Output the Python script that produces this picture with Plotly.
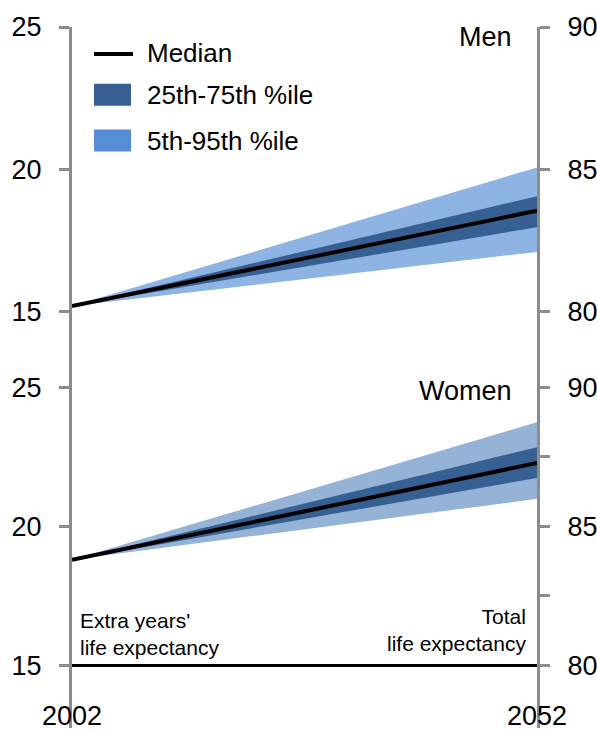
import plotly.graph_objects as go

# ---------------- data ----------------
years = [2002, 2052]

men_median = [15.2, 18.55]
men_p25 = [15.2, 17.97]
men_p75 = [15.2, 19.06]
men_p5 = [15.2, 17.10]
men_p95 = [15.2, 20.07]

women_median = [18.8, 22.28]
women_p25 = [18.8, 21.74]
women_p75 = [18.8, 22.85]
women_p5 = [18.8, 20.99]
women_p95 = [18.8, 23.75]

left_ticks = [15, 20, 25]
right_ticks_top = [80, 85, 90]
right_ticks_bottom = [80, 82.5, 85, 87.5, 90]
right_labels_bottom = ["80", "", "85", "", "90"]
offset = 65  # total life expectancy = 65 + extra years
x_ticks = [2002, 2052]

# ---------------- styling ----------------
W, H = 597, 731
ML, MR, MT, MB = 72, 60, 27, 0
PW, PH = W - ML - MR, H - MT - MB
FONT = "Liberation Sans, Arial, sans-serif"
GRAY = "#8C8C8C"
DARK = "#366092"
LIGHT_M = "#8DB4E2"
LIGHT_W = "#95B3D7"
LEG_LIGHT = "#558ED5"


def px_x(p):
    return (p - ML) / PW


def px_y(p):
    return (H - MB - p) / PH


split = px_y(389)
top_range = [15 - 76 / 28.6, 25]
bot_range = [15 - 63 / 27.9, 25]

fig = go.Figure()


def add_panel(xa, ya, med, p25, p75, p5, p95, light):
    fig.add_trace(go.Scatter(x=years, y=p5, mode="lines", line=dict(width=0),
                             xaxis=xa, yaxis=ya, showlegend=False, hoverinfo="skip"))
    fig.add_trace(go.Scatter(x=years, y=p95, mode="lines", line=dict(width=0),
                             fill="tonexty", fillcolor=light,
                             xaxis=xa, yaxis=ya, showlegend=False, hoverinfo="skip"))
    fig.add_trace(go.Scatter(x=years, y=p25, mode="lines", line=dict(width=0),
                             xaxis=xa, yaxis=ya, showlegend=False, hoverinfo="skip"))
    fig.add_trace(go.Scatter(x=years, y=p75, mode="lines", line=dict(width=0),
                             fill="tonexty", fillcolor=DARK,
                             xaxis=xa, yaxis=ya, showlegend=False, hoverinfo="skip"))
    fig.add_trace(go.Scatter(x=years, y=med, mode="lines", line=dict(width=4, color="black"),
                             xaxis=xa, yaxis=ya, showlegend=False))


add_panel("x", "y", men_median, men_p25, men_p75, men_p5, men_p95, LIGHT_M)
add_panel("x2", "y3", women_median, women_p25, women_p75, women_p5, women_p95, LIGHT_W)

tickfont = dict(family=FONT, size=27, color="black")
yax_common = dict(showline=True, linecolor=GRAY, linewidth=3, ticks="outside",
                  ticklen=10, tickwidth=3, tickcolor=GRAY, showgrid=False,
                  zeroline=False, tickfont=tickfont, fixedrange=True,
                  ticklabelstandoff=12)

fig.update_layout(
    width=W, height=H,
    margin=dict(l=ML, r=MR, t=MT, b=MB),
    paper_bgcolor="white", plot_bgcolor="white",
    showlegend=False,
    xaxis=dict(domain=[0, 1], range=[2002, 2052], anchor="y", visible=False),
    xaxis2=dict(domain=[0, 1], range=[2002, 2052], anchor="free", position=px_y(668),
                showline=True, linecolor="black", linewidth=3, ticks="",
                tickvals=x_ticks, ticktext=[str(v) for v in x_ticks],
                tickfont=dict(family=FONT, size=27, color="black"),
                showgrid=False, zeroline=False, ticklabelstandoff=25),
    yaxis=dict(domain=[split, 1], range=top_range, anchor="x", side="left",
               tickvals=left_ticks, **yax_common),
    yaxis2=dict(domain=[split, 1], range=[top_range[0] + offset, top_range[1] + offset],
                overlaying="y", anchor="x", side="right",
                tickvals=right_ticks_top, **yax_common),
    yaxis3=dict(domain=[0, split], range=bot_range, anchor="x2", side="left",
                tickvals=left_ticks, **yax_common),
    yaxis4=dict(domain=[0, split], range=[bot_range[0] + offset, bot_range[1] + offset],
                overlaying="y3", anchor="x2", side="right",
                tickvals=right_ticks_bottom, ticktext=right_labels_bottom, **yax_common),
)

# dummy traces to make secondary axes render
fig.add_trace(go.Scatter(x=[None], y=[None], xaxis="x", yaxis="y2", showlegend=False))
fig.add_trace(go.Scatter(x=[None], y=[None], xaxis="x2", yaxis="y4", showlegend=False))

# ---------------- legend (manual) ----------------
shapes = [
    dict(type="line", xref="paper", yref="paper", x0=px_x(94), x1=px_x(133),
         y0=px_y(54), y1=px_y(54), line=dict(color="black", width=4)),
    dict(type="rect", xref="paper", yref="paper", x0=px_x(94), x1=px_x(131),
         y0=px_y(106), y1=px_y(84), fillcolor=DARK, line=dict(width=0)),
    dict(type="rect", xref="paper", yref="paper", x0=px_x(94), x1=px_x(131),
         y0=px_y(152), y1=px_y(130), fillcolor=LEG_LIGHT, line=dict(width=0)),
]
fig.update_layout(shapes=shapes)

lf = dict(family=FONT, size=26, color="black")
ann = [
    dict(text="Median", x=px_x(145), y=px_y(53)),
    dict(text="25th-75th %ile", x=px_x(145), y=px_y(95)),
    dict(text="5th-95th %ile", x=px_x(145), y=px_y(141)),
]
annotations = []
for a in ann:
    annotations.append(dict(xref="paper", yref="paper", xanchor="left", yanchor="middle",
                            showarrow=False, font=lf, **a))

tf = dict(family=FONT, size=27, color="black")
annotations += [
    dict(text="Men", x=px_x(514), y=px_y(37), xref="paper", yref="paper",
         xanchor="right", yanchor="middle", showarrow=False, font=tf),
    dict(text="Women", x=px_x(514), y=px_y(393), xref="paper", yref="paper",
         xanchor="right", yanchor="middle", showarrow=False, font=tf),
    dict(text="Extra years'<br>life expectancy", x=px_x(78), y=px_y(637), xref="paper",
         yref="paper", xanchor="left", yanchor="middle", align="left", showarrow=False,
         font=dict(family=FONT, size=21, color="black")),
    dict(text="Total<br>life expectancy", x=px_x(528), y=px_y(633), xref="paper",
         yref="paper", xanchor="right", yanchor="middle", align="right", showarrow=False,
         font=dict(family=FONT, size=21, color="black")),
]
fig.update_layout(annotations=annotations)

fig.write_html("out.html", config={"displayModeBar": False},
               post_script="document.body.style.margin='0px';document.body.style.overflow='hidden';")
